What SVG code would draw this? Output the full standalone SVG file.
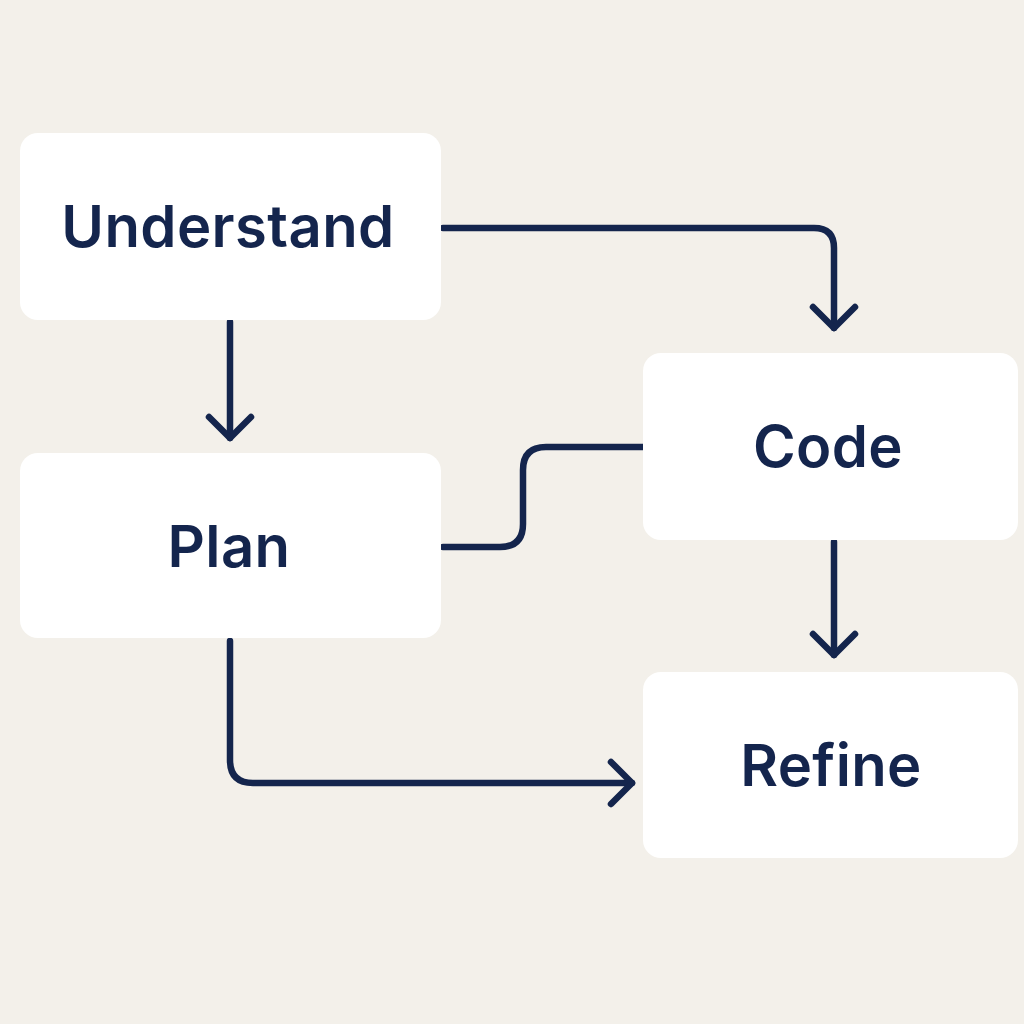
<svg xmlns="http://www.w3.org/2000/svg" width="1024" height="1024" viewBox="0 0 1024 1024">
<defs>
<style>
.box{fill:#ffffff;}
.lbl{font-family:Inter,"Liberation Sans",sans-serif;font-weight:600;font-size:58px;letter-spacing:0.4px;fill:#14254d;text-anchor:middle;}
.c{fill:none;stroke:#14254d;stroke-width:6.5;stroke-linecap:round;stroke-linejoin:round;}
</style>
<marker id="ah" viewBox="-12 -12 24 24" markerWidth="24" markerHeight="24" markerUnits="userSpaceOnUse" refX="0" refY="0" orient="auto" overflow="visible">
<path d="M-21,-21 L0,0 L-21,21" fill="none" stroke="#14254d" stroke-width="6.5" stroke-linecap="round" stroke-linejoin="round"/>
</marker>
</defs>
<rect width="1024" height="1024" fill="#f3f0ea"/>
<g id="connectors">
<path class="c" d="M443,228 H814 Q834,228 834,248 V328" marker-end="url(#ah)"/>
<path class="c" d="M230,322 V438" marker-end="url(#ah)"/>
<path class="c" d="M643,447 H546 Q523,447 523,470 V524 Q523,547 500,547 H443"/>
<path class="c" d="M834,542 V655" marker-end="url(#ah)"/>
<path class="c" d="M230,641 V760 Q230,783 253,783 H632" marker-end="url(#ah)"/>
</g>
<g id="understand">
<rect class="box" x="20" y="133" width="421" height="187" rx="18"/>
<text class="lbl" x="228" y="247">Understand</text>
</g>
<g id="plan">
<rect class="box" x="20" y="453" width="421" height="185" rx="18"/>
<text class="lbl" x="229" y="567">Plan</text>
</g>
<g id="code">
<rect class="box" x="643" y="353" width="375" height="187" rx="18"/>
<text class="lbl" x="828" y="467">Code</text>
</g>
<g id="refine">
<rect class="box" x="643" y="672" width="375" height="186" rx="18"/>
<text class="lbl" x="831" y="786">Refine</text>
</g>
</svg>
